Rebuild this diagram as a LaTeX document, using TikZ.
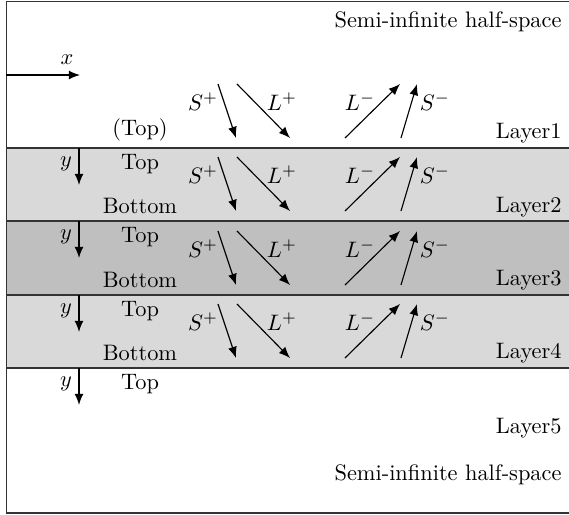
\documentclass[tikz,border=0pt]{standalone}
\usetikzlibrary{arrows.meta}
\begin{document}
\begin{tikzpicture}[x=0.447pt,y=-0.447pt,
  wave/.style={-{Latex[length=5pt,width=4pt]}, line width=0.5pt},
  axisarr/.style={-{Latex[length=5pt,width=4pt]}, line width=0.6pt},
  bound/.style={line width=0.7pt, draw=black!80},
  frame/.style={line width=0.8pt, draw=black!80},
  lbl/.style={inner sep=0pt},
  rlbl/.style={inner sep=0pt, anchor=east}]
\useasboundingbox (0,0) rectangle (569,515);
% layer fills
\fill[gray!30] (6.5,148) rectangle (570,221);
\fill[gray!50] (6.5,221) rectangle (570,295);
\fill[gray!30] (6.5,295) rectangle (570,368);
% boundaries
\foreach \B/\n in {148/1,221/2,295/3,368/4}{
  \coordinate (bl\n) at (6.5,\B);
  \coordinate (br\n) at (570,\B);
  \draw[bound] (bl\n) -- (br\n);
}
\draw[frame] (6.5,1.5) rectangle (570,513);
% x axis
\coordinate (xo) at (6.5,75);
\coordinate (xe) at (80,75);
\draw[axisarr] (xo) -- (xe);
\node[lbl] (xl) at (67,60) {$x$};
% y axes
\foreach \B/\n in {148/2,221/3,295/4,368/5}{
  \coordinate (yo\n) at (79,\B);
  \coordinate (ye\n) at (79,{\B+37});
  \draw[axisarr] (yo\n) -- (ye\n);
  \node[lbl] (yl\n) at (66,{\B+16}) {$y$};
  \node[lbl] (top\n) at (140,{\B+16.5}) {Top};
}
\foreach \B/\n in {221/2,295/3,368/4}{
  \node[lbl] (bot\n) at (140,{\B-15}) {Bottom};
}
\node[lbl] (top1) at (140,130) {(Top)};
% waves
\foreach \B/\n in {148/1,221/2,295/3,368/4}{
  \coordinate (sp\n a) at (218,{\B-64});
  \coordinate (sp\n b) at (236,{\B-10});
  \coordinate (lp\n a) at (237,{\B-64});
  \coordinate (lp\n b) at (290,{\B-10});
  \coordinate (lm\n a) at (345,{\B-10});
  \coordinate (lm\n b) at (400,{\B-64});
  \coordinate (sm\n a) at (401,{\B-10});
  \coordinate (sm\n b) at (417,{\B-64});
  \draw[wave] (sp\n a) -- (sp\n b);
  \draw[wave] (lp\n a) -- (lp\n b);
  \draw[wave] (lm\n a) -- (lm\n b);
  \draw[wave] (sm\n a) -- (sm\n b);
  \node[lbl] (spl\n) at (203,{\B-46}) {$S^{+}$};
  \node[lbl] (lpl\n) at (282,{\B-46}) {$L^{+}$};
  \node[lbl] (lml\n) at (360,{\B-46}) {$L^{-}$};
  \node[lbl] (sml\n) at (435,{\B-46}) {$S^{-}$};
}
% layer labels
\node[rlbl] (lay1) at (562,133) {Layer1};
\node[rlbl] (lay2) at (562,207) {Layer2};
\node[rlbl] (lay3) at (562,280) {Layer3};
\node[rlbl] (lay4) at (562,353) {Layer4};
\node[rlbl] (lay5) at (562,428) {Layer5};
\node[rlbl] (hs1) at (562,22) {Semi-infinite half-space};
\node[rlbl] (hs2) at (562,475) {Semi-infinite half-space};
\end{tikzpicture}
\end{document}
